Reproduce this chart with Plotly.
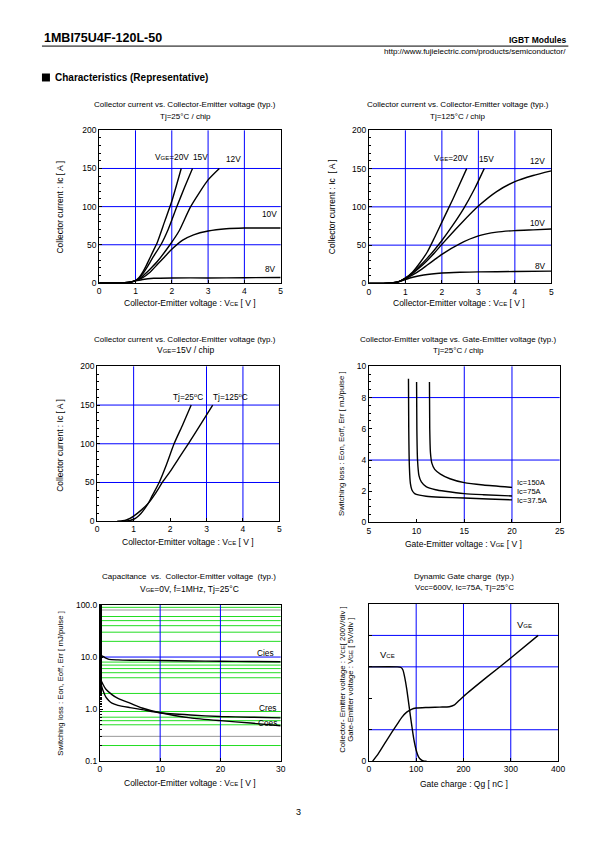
import plotly.graph_objects as go

W, H = 595, 842
FONT = "Liberation Sans, Arial, sans-serif"
BLUE = "#0000ff"
GREEN = "#22dd22"

# ---------- data ----------
# Plot 1: Tj=25C, Ic vs Vce for several VGE
p1_v20 = [0, 0.5, 0.8, 1.0, 1.1, 1.2, 1.3, 1.4, 1.5, 1.6, 1.8, 2.0, 2.26]
p1_i20 = [0, 0, 0.5, 3, 7, 14, 23, 33, 43, 53, 80, 107, 150]
p1_v15 = [0, 0.5, 0.8, 1.0, 1.1, 1.2, 1.3, 1.4, 1.5, 1.7, 1.9, 2.14, 2.35, 2.57]
p1_i15 = [0, 0, 0.5, 3, 6, 12, 19, 27, 35, 50, 70, 100, 125, 150]
p1_v12 = [0, 0.5, 0.8, 1.0, 1.1, 1.2, 1.4, 1.6, 1.95, 2.2, 2.52, 3.0, 3.31]
p1_i12 = [0, 0, 0.5, 3, 5, 9, 18, 28, 50, 68, 100, 135, 150]
p1_v10 = [0, 0.5, 0.8, 1.0, 1.2, 1.4, 1.6, 1.8, 2.0, 2.3, 2.6, 3.0, 3.5, 4.0, 4.5, 5.0]
p1_i10 = [0, 0, 0.5, 3, 7, 14, 24, 34, 44, 56, 63, 68, 71, 72, 72, 72]
p1_v8 = [0, 0.5, 0.8, 1.0, 1.2, 1.5, 2, 3, 4, 5]
p1_i8 = [0, 0, 0.5, 2.5, 4.5, 6, 6.5, 6.5, 6.8, 7]

# Plot 2: Tj=125C
p2_v20 = [0, 0.4, 0.6, 0.8, 1.0, 1.2, 1.4, 1.6, 1.8, 2.0, 2.3, 2.68]
p2_i20 = [0, 0, 0.5, 2, 7, 15, 27, 41, 60, 80, 110, 150]
p2_v15 = [0, 0.4, 0.6, 0.8, 1.0, 1.2, 1.4, 1.6, 1.8, 2.0, 2.3, 2.6, 2.9, 3.16]
p2_i15 = [0, 0, 0.5, 2, 7, 14, 23, 33, 44, 56, 76, 98, 124, 150]
p2_v12 = [0, 0.4, 0.6, 0.8, 1.0, 1.2, 1.4, 1.6, 1.8, 2.0, 2.5, 3.0, 3.5, 4.0, 4.5, 5.0]
p2_i12 = [0, 0, 0.5, 2, 6.5, 13, 21, 30, 40, 51, 77, 101, 120, 133, 141, 147]
p2_v10 = [0, 0.4, 0.6, 0.8, 1.0, 1.2, 1.4, 1.6, 1.8, 2.0, 2.5, 3.0, 3.5, 4.0, 4.5, 5.0]
p2_i10 = [0, 0, 0.5, 2, 6, 11, 17, 24, 31, 38, 52, 62, 67, 69, 70, 71]
p2_v8 = [0, 0.4, 0.6, 0.8, 1.0, 1.2, 1.5, 2.0, 2.5, 3.0, 4.0, 5.0]
p2_i8 = [0, 0, 0.5, 2, 5, 8, 11, 13.5, 14.5, 15, 15.5, 16]

# Plot 3: VGE=15V, Tj=25C / 125C
p3_v25 = [0.7, 0.8, 0.9, 1.0, 1.1, 1.2, 1.3, 1.4, 1.5, 1.7, 1.9, 2.11, 2.35, 2.58]
p3_i25 = [0, 0.3, 1, 2.5, 5.5, 10, 16, 23, 32, 50, 73, 100, 125, 150]
p3_v125 = [0.55, 0.7, 0.8, 0.9, 1.0, 1.2, 1.4, 1.6, 1.8, 2.0, 2.25, 2.5, 2.8, 3.17]
p3_i125 = [0, 0.5, 1.5, 3.5, 6.5, 14, 23, 36, 51, 64, 82, 100, 122, 150]

# Plot 4: Vce vs VGE
p4_g150 = [11.35, 11.38, 11.45, 11.6, 11.9, 12.5, 13.5, 15, 17, 20]
p4_e150 = [9.0, 6, 4.5, 3.8, 3.4, 3.1, 2.8, 2.55, 2.4, 2.25]
p4_g75 = [10.0, 10.03, 10.1, 10.25, 10.5, 11, 12, 13, 15, 17, 20]
p4_e75 = [9.0, 6, 4, 3, 2.6, 2.3, 2.1, 2.0, 1.85, 1.78, 1.7]
p4_g37 = [9.15, 9.18, 9.25, 9.35, 9.5, 9.8, 10.3, 11, 12.5, 15, 17.5, 20]
p4_e37 = [9.2, 6, 3.5, 2.5, 2.1, 1.85, 1.75, 1.68, 1.62, 1.57, 1.5, 1.45]

# Plot 5: capacitance
p5_v_cies = [0, 0.5, 1, 1.5, 3, 5, 10, 15, 20, 25, 30]
p5_cies = [11, 10.3, 9.5, 9.0, 8.8, 8.7, 8.6, 8.4, 8.3, 8.2, 8.1]
p5_v_cres = [0, 0.5, 1, 1.5, 2, 3, 5, 7, 10, 15, 20, 25, 30]
p5_cres = [3.5, 2.3, 1.7, 1.45, 1.3, 1.18, 1.07, 0.98, 0.85, 0.77, 0.72, 0.7, 0.68]
p5_v_coes = [0, 0.5, 1, 2, 3, 5, 7, 10, 15, 20, 25, 30]
p5_coes = [4.0, 3.0, 2.4, 1.9, 1.6, 1.3, 1.05, 0.85, 0.68, 0.6, 0.54, 0.48]
p5_green = [0.2, 0.5, 0.6, 0.7, 0.9, 2, 4, 5, 6, 7, 8, 20, 30, 40, 50, 60, 90]
p5_gray = [0.3, 80]

# Plot 6: gate charge
p6_q_vce = [0, 60, 68, 72, 76, 80, 85, 90, 95, 100, 105, 110, 115, 122]
p6_vce = [600, 600, 596, 580, 530, 460, 350, 240, 140, 70, 28, 10, 2, 0]
p6_q_vge = [8, 20, 40, 60, 70, 80, 90, 100, 120, 150, 170, 180, 190, 200, 250, 300, 358]
p6_vge = [0, 1.2, 3.6, 5.9, 7.0, 7.8, 8.25, 8.45, 8.55, 8.6, 8.65, 8.9, 9.6, 10.3, 13.4, 16.4, 20.0]

# ---------- helpers ----------
SX, SY, OY = 0.986, 0.991, 3.3   # empirical page-placement correction


def px(x):
    return x / SX / W


def py(y):
    return 1 - ((y - OY) / SY) / H


def xn(i):
    return "x" if i == 1 else f"x{i}"


def yn(i):
    return "y" if i == 1 else f"y{i}"


boxes = {
    1: (97.3, 279, 129, 282),
    2: (367.3, 550, 129, 282.5),
    3: (95.3, 277.7, 365.7, 521),
    4: (367.3, 558.3, 365.7, 522.3),
    5: (98, 279, 605, 761.7),
    6: (367.3, 556.7, 604, 761.7),
}

fig = go.Figure()
layout = dict(width=W, height=H, margin=dict(l=0, r=0, t=0, b=0), autosize=False,
              paper_bgcolor="white", plot_bgcolor="white", showlegend=False,
              font=dict(family=FONT, size=8, color="black"))
annotations = []
shapes = []
TICKF = 8.5


def axis_common():
    return dict(showline=True, linecolor="black", linewidth=1, mirror=True,
                showgrid=False, zeroline=False, ticks="inside", ticklen=3,
                tickcolor="black", tickfont=dict(family=FONT, size=TICKF, color="black"))


def add_axes(i, xr, yr, xdt, ydt, ymin_dt=None, ytype="linear", xkw=None, ykw=None):
    x0, x1, y0, y1 = boxes[i]
    xa = axis_common()
    xa.update(domain=[px(x0), px(x1)], range=xr, dtick=xdt, anchor=yn(i))
    ya = axis_common()
    ya.update(domain=[py(y1), py(y0)], range=yr, type=ytype, anchor=xn(i))
    if ydt is not None:
        ya["dtick"] = ydt
    if ymin_dt is not None:
        ya["minor"] = dict(dtick=ymin_dt, ticks="inside", ticklen=2, tickcolor="black")
    if xkw:
        xa.update(xkw)
    if ykw:
        ya.update(ykw)
    layout["xaxis" if i == 1 else f"xaxis{i}"] = xa
    layout["yaxis" if i == 1 else f"yaxis{i}"] = ya


def vgrid(i, vals, color=BLUE):
    for v in vals:
        shapes.append(dict(type="line", xref=xn(i), yref=f"{yn(i)} domain", x0=v, x1=v,
                           y0=0, y1=1, line=dict(color=color, width=1), layer="below"))


def hgrid(i, vals, color=BLUE):
    for v in vals:
        shapes.append(dict(type="line", xref=f"{xn(i)} domain", yref=yn(i), x0=0, x1=1,
                           y0=v, y1=v, line=dict(color=color, width=1), layer="below"))


def line(i, xs, ys, yaxis=None):
    fig.add_trace(go.Scatter(x=xs, y=ys, mode="lines", xaxis=xn(i),
                             yaxis=yaxis or yn(i),
                             line=dict(color="black", width=1.4, shape="spline", smoothing=0.6),
                             hoverinfo="skip"))


def text(x, y, t, size=8, xanchor="center", bold=False, angle=0):
    if bold:
        t = f"<b>{t}</b>"
    annotations.append(dict(x=px(x), y=py(y), xref="paper", yref="paper", text=t,
                            showarrow=False, xanchor=xanchor, yanchor="middle",
                            textangle=angle, font=dict(family=FONT, size=size, color="black")))


def sub(s, fs=6):
    return f"<span style='font-size:{fs}px'>{s}</span>"


VGE = "V" + sub("GE")
VCE = "V" + sub("CE")
DEG = "°C"
AX = 8.5   # axis title size
LB = 8.3   # curve label size

# ---------- header ----------
text(40, 36, "1MBI75U4F-120L-50", size=12.5, xanchor="left", bold=True)
text(567, 38, "IGBT Modules", size=8.5, xanchor="right", bold=True)
text(567, 50, "http://www.fujielectric.com/products/semiconductor/", size=8, xanchor="right")
shapes.append(dict(type="line", xref="paper", yref="paper", x0=px(40), x1=px(567),
                   y0=py(44.5), y1=py(44.5), line=dict(color="black", width=1)))
shapes.append(dict(type="rect", xref="paper", yref="paper", x0=px(40), x1=px(48),
                   y0=py(80), y1=py(72), fillcolor="black", line=dict(width=0)))
text(51, 76, "Characteristics (Representative)", size=10, xanchor="left", bold=True)
text(297, 813, "3", size=9)

# ---------- plot 1 ----------
add_axes(1, [0, 5], [0, 200], 1, 50, 10)
vgrid(1, [1, 2, 3, 4]); hgrid(1, [50, 100, 150])
for xs, ys in [(p1_v20, p1_i20), (p1_v15, p1_i15), (p1_v12, p1_i12), (p1_v10, p1_i10), (p1_v8, p1_i8)]:
    line(1, xs, ys)
text(183.5, 103, "Collector current vs. Collector-Emitter voltage (typ.)")
text(183.5, 115, "Tj=25" + DEG + " / chip")
text(58.5, 206, "Collector current : Ic [ A ]", angle=-90, size=AX)
text(188, 302.5, "Collector-Emitter voltage : " + VCE + " [ V ]", size=AX)
text(170, 156, VGE + "=20V", size=LB); text(199, 156, "15V", size=LB); text(232, 158, "12V", size=LB)
text(268, 213, "10V", size=LB); text(269, 268, "8V", size=LB)

# ---------- plot 2 ----------
add_axes(2, [0, 5], [0, 200], 1, 50, 10)
vgrid(2, [1, 2, 3, 4]); hgrid(2, [50, 100, 150])
for xs, ys in [(p2_v20, p2_i20), (p2_v15, p2_i15), (p2_v12, p2_i12), (p2_v10, p2_i10), (p2_v8, p2_i8)]:
    line(2, xs, ys)
text(456.5, 103, "Collector current vs. Collector-Emitter voltage (typ.)")
text(456.5, 115, "Tj=125" + DEG + " / chip")
text(330.5, 206, "Collector current : Ic  [ A ]", angle=-90, size=AX)
text(458, 302.5, "Collector-Emitter voltage : " + VCE + " [ V ]", size=AX)
text(450, 157, VGE + "=20V", size=LB); text(485, 158, "15V", size=LB); text(536.5, 160, "12V", size=LB)
text(536.5, 221.5, "10V", size=LB); text(539, 265, "8V", size=LB)

# ---------- plot 3 ----------
add_axes(3, [0, 5], [0, 200], 1, 50, 10)
vgrid(3, [1, 3, 4]); hgrid(3, [50, 100, 150])
line(3, p3_v25, p3_i25); line(3, p3_v125, p3_i125)
text(183.5, 338.5, "Collector current vs. Collector-Emitter voltage (typ.)")
text(183.5, 349.5, VGE + "=15V / chip", size=8.5)
text(58.5, 445, "Collector current : Ic [ A ]", angle=-90, size=AX)
text(186, 542, "Collector-Emitter voltage : " + VCE + " [ V ]", size=AX)
text(186.5, 396, "Tj=25<sup>o</sup>C", size=LB); text(228.5, 396, "Tj=125<sup>o</sup>C", size=LB)

# ---------- plot 4 ----------
add_axes(4, [5, 25], [0, 10], 5, 2, 0.5)
vgrid(4, [15, 20]); hgrid(4, [4, 8])
line(4, p4_g150, p4_e150); line(4, p4_g75, p4_e75); line(4, p4_g37, p4_e37)
text(457, 338.5, "Collector-Emitter voltage vs. Gate-Emitter voltage (typ.)")
text(457, 349.5, "Tj=25" + DEG + " / chip")
text(340, 443, "Switching loss : Eon, Eoff, Err [ mJ/pulse ]", angle=-90, size=7.8)
text(462, 544, "Gate-Emitter voltage : " + VGE + " [ V ]", size=AX)
text(514, 482.5, "Ic=150A", xanchor="left", size=7.5)
text(514, 491.5, "Ic=75A", xanchor="left", size=7.5)
text(514, 500.5, "Ic=37.5A", xanchor="left", size=7.5)

# ---------- plot 5 ----------
add_axes(5, [0, 30], [-1, 2], 10, None, None, ytype="log",
         ykw=dict(tickvals=[0.1, 1, 10, 100], ticktext=["0.1", "1.0", "10.0", "100.0"],
                  minor=dict(ticks="inside", ticklen=2, tickcolor="black", showgrid=False)))
hgrid(5, p5_green, color=GREEN); hgrid(5, p5_gray, color="#999999")
hgrid(5, [10]); vgrid(5, [10, 20])
line(5, p5_v_cies, p5_cies); line(5, p5_v_cres, p5_cres); line(5, p5_v_coes, p5_coes)
text(187.5, 576.5, "Capacitance  vs.  Collector-Emitter voltage  (typ.)")
text(187.5, 588.5, VGE + "=0V, f=1MHz, Tj=25" + DEG, size=8.5)
text(59, 683, "Switching loss : Eon, Eoff, Err [ mJ/pulse ]", angle=-90, size=7.8)
text(188, 784, "Collector-Emitter voltage : " + VCE + " [ V ]", size=AX)
text(264, 653, "Cies", size=LB); text(266, 708.5, "Cres", size=LB); text(266, 723, "Coes", size=LB)

# ---------- plot 6 ----------
add_axes(6, [0, 400], [0, 1000], 100, None, None,
         ykw=dict(tickvals=[0], ticktext=["0"],
                  minor=dict(dtick=200, ticks="inside", ticklen=3, tickcolor="black")))
layout["yaxis7"] = dict(overlaying="y6", range=[0, 25], visible=False, anchor="x6")
vgrid(6, [100, 200, 300]); hgrid(6, [200, 600, 800])
line(6, p6_q_vce, p6_vce)
line(6, p6_q_vge, p6_vge, yaxis="y7")
text(463, 576.5, "Dynamic Gate charge  (typ.)")
text(463, 587.5, "Vcc=600V, Ic=75A, Tj=25" + DEG)
text(341.5, 680, "Collector- Emitter voltage : " + VCE + "[ 200V/div ]", angle=-90, size=7.8)
text(349.5, 680, "Gate-Emitter voltage : " + VGE + " [ 5V/div ]", angle=-90, size=7.8)
text(463, 785, "Gate charge : Qg [ nC ]", size=AX)
text(385.5, 655, VCE, size=9.5); text(523, 625, VGE, size=9.5)

layout["annotations"] = annotations
layout["shapes"] = shapes
fig.update_layout(**layout)
fig.write_html("out.html", config={"displayModeBar": False},
               post_script="document.body.style.margin='0px';")
